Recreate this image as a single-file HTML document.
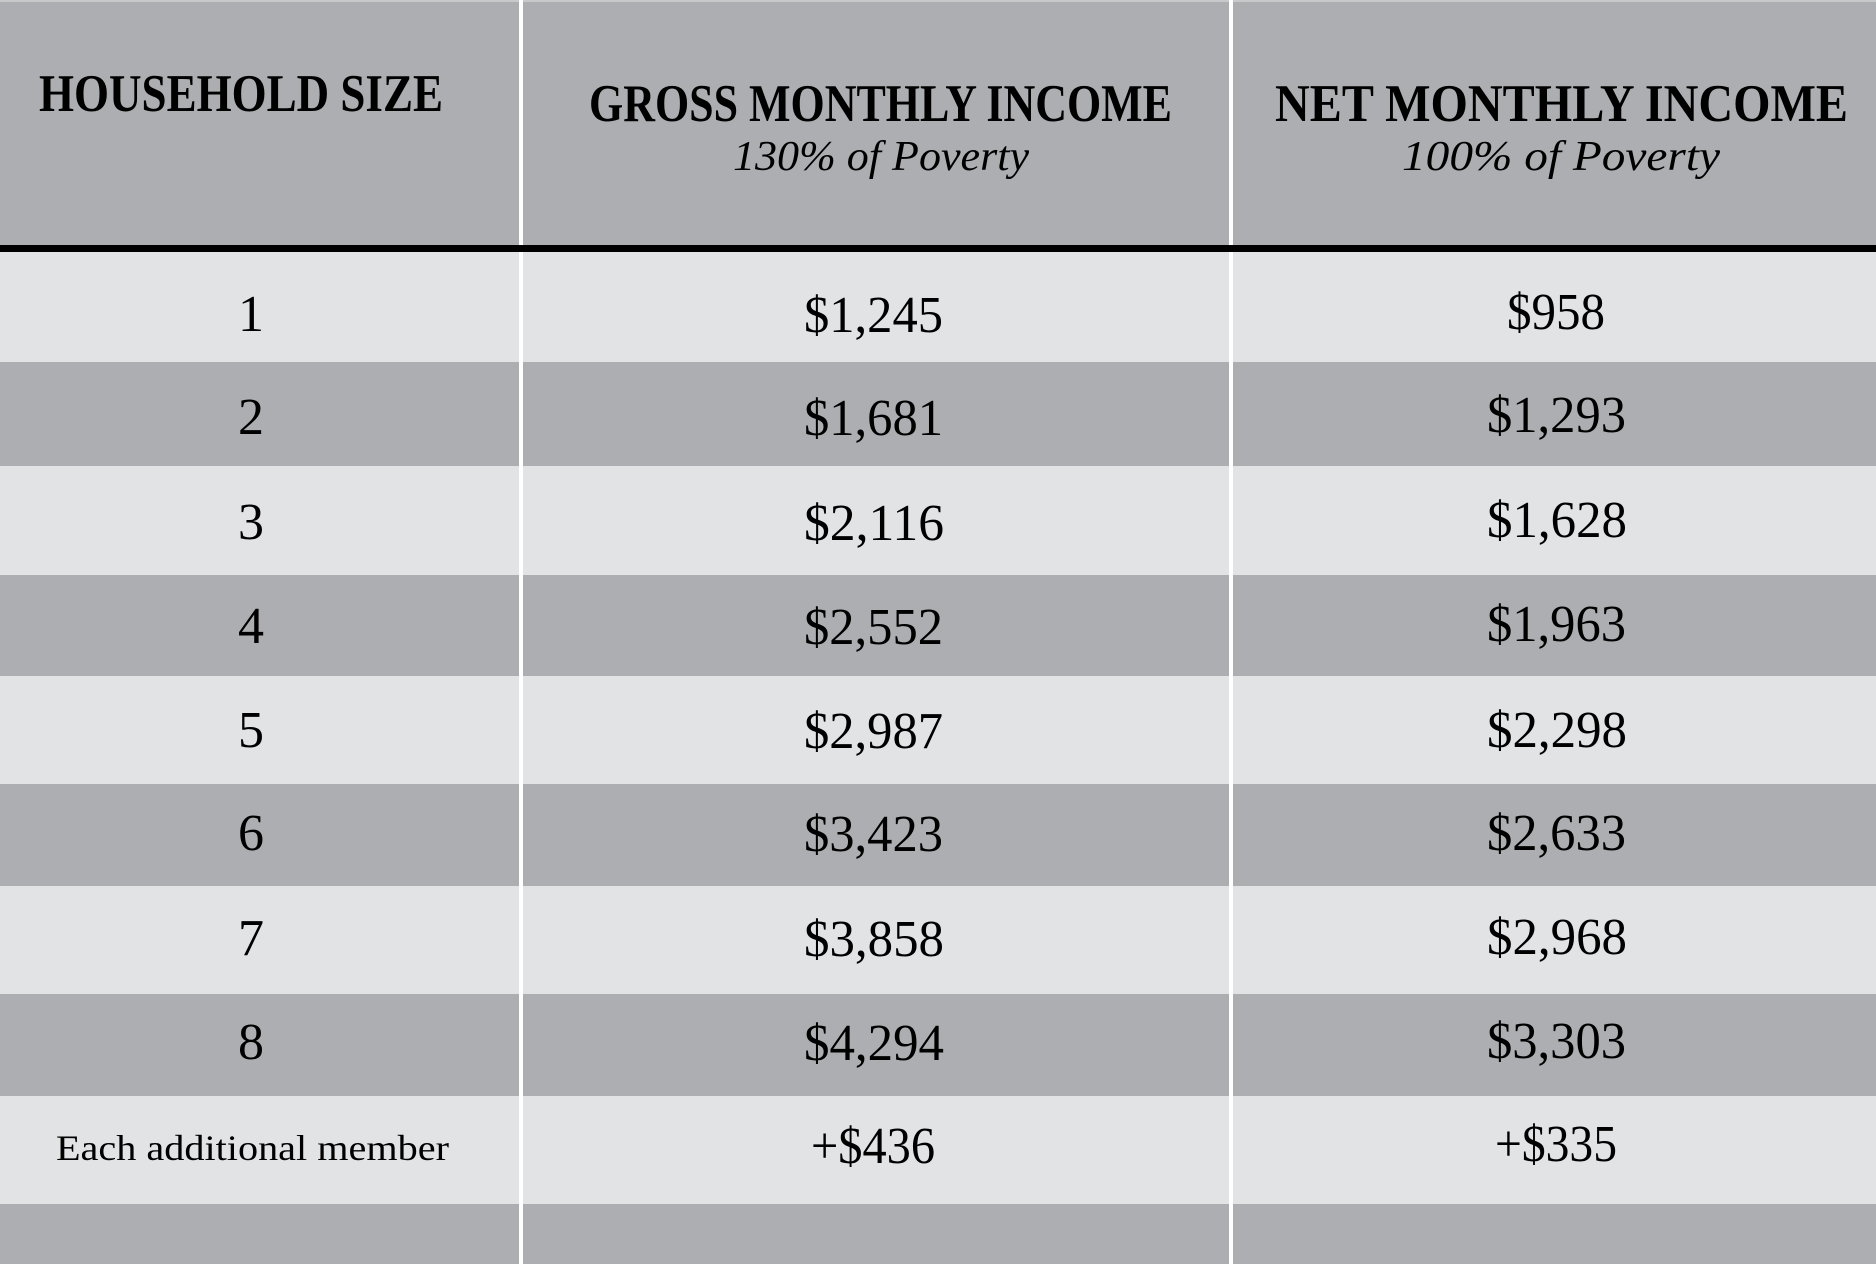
<!DOCTYPE html>
<html><head><meta charset="utf-8"><style>
html,body{margin:0;padding:0;background:#e2e3e5;}
svg{display:block;}
text{font-family:"Liberation Serif",serif;fill:#000;}
.h{font-weight:bold;font-size:53px;}
.i{font-style:italic;font-size:42px;}
.n{font-size:52px;}
</style></head><body>
<svg width="1876" height="1264" viewBox="0 0 1876 1264" xmlns="http://www.w3.org/2000/svg">
<rect x="0" y="0" width="1876" height="245" fill="#adaeb1"/>
<rect x="0" y="0" width="1876" height="2" fill="#c8c9cb"/>
<rect x="0" y="245" width="1876" height="7" fill="#000"/>
<rect x="0" y="252" width="1876" height="110" fill="#e2e3e5"/>
<rect x="0" y="362" width="1876" height="104" fill="#adaeb1"/>
<rect x="0" y="466" width="1876" height="109" fill="#e2e3e5"/>
<rect x="0" y="575" width="1876" height="101" fill="#adaeb1"/>
<rect x="0" y="676" width="1876" height="108" fill="#e2e3e5"/>
<rect x="0" y="784" width="1876" height="102" fill="#adaeb1"/>
<rect x="0" y="886" width="1876" height="108" fill="#e2e3e5"/>
<rect x="0" y="994" width="1876" height="102" fill="#adaeb1"/>
<rect x="0" y="1096" width="1876" height="108" fill="#e2e3e5"/>
<rect x="0" y="1204" width="1876" height="60" fill="#adaeb1"/>
<rect x="519" y="0" width="4" height="245" fill="#fff"/>
<rect x="519" y="252" width="4" height="1012" fill="#fff"/>
<rect x="1229" y="0" width="4" height="245" fill="#fff"/>
<rect x="1229" y="252" width="4" height="1012" fill="#fff"/>

<text class="h" x="39" y="111" textLength="404" lengthAdjust="spacingAndGlyphs">HOUSEHOLD SIZE</text>
<text class="h" x="589" y="121" textLength="583" lengthAdjust="spacingAndGlyphs">GROSS MONTHLY INCOME</text>
<text class="i" x="733" y="170" textLength="296" lengthAdjust="spacingAndGlyphs">130% of Poverty</text>
<text class="h" x="1275" y="121" textLength="573" lengthAdjust="spacingAndGlyphs">NET MONTHLY INCOME</text>
<text class="i" x="1402" y="170" textLength="318" lengthAdjust="spacingAndGlyphs">100% of Poverty</text>

<g class="n" text-anchor="middle">
<text class="n" x="251" y="331">1</text>
<text class="n" x="251" y="434">2</text>
<text class="n" x="251" y="539">3</text>
<text class="n" x="251" y="643">4</text>
<text class="n" x="251" y="747">5</text>
<text class="n" x="251" y="850">6</text>
<text class="n" x="251" y="955">7</text>
<text class="n" x="251" y="1059">8</text>
</g>
<text x="56" y="1160" style="font-size:36px" textLength="393" lengthAdjust="spacingAndGlyphs">Each additional member</text>

<text class="n" x="804" y="332" textLength="139" lengthAdjust="spacingAndGlyphs">$1,245</text>
<text class="n" x="804" y="435" textLength="139" lengthAdjust="spacingAndGlyphs">$1,681</text>
<text class="n" x="804" y="540" textLength="140" lengthAdjust="spacingAndGlyphs">$2,116</text>
<text class="n" x="804" y="644" textLength="139" lengthAdjust="spacingAndGlyphs">$2,552</text>
<text class="n" x="804" y="748" textLength="139" lengthAdjust="spacingAndGlyphs">$2,987</text>
<text class="n" x="804" y="851" textLength="139" lengthAdjust="spacingAndGlyphs">$3,423</text>
<text class="n" x="804" y="956" textLength="140" lengthAdjust="spacingAndGlyphs">$3,858</text>
<text class="n" x="804" y="1060" textLength="140" lengthAdjust="spacingAndGlyphs">$4,294</text>
<text class="n" x="811" y="1163" textLength="124" lengthAdjust="spacingAndGlyphs">+$436</text>

<text class="n" x="1507" y="329" textLength="98" lengthAdjust="spacingAndGlyphs">$958</text>
<text class="n" x="1487" y="432" textLength="139" lengthAdjust="spacingAndGlyphs">$1,293</text>
<text class="n" x="1487" y="537" textLength="140" lengthAdjust="spacingAndGlyphs">$1,628</text>
<text class="n" x="1487" y="641" textLength="139" lengthAdjust="spacingAndGlyphs">$1,963</text>
<text class="n" x="1487" y="747" textLength="140" lengthAdjust="spacingAndGlyphs">$2,298</text>
<text class="n" x="1487" y="850" textLength="139" lengthAdjust="spacingAndGlyphs">$2,633</text>
<text class="n" x="1487" y="954" textLength="140" lengthAdjust="spacingAndGlyphs">$2,968</text>
<text class="n" x="1487" y="1058" textLength="139" lengthAdjust="spacingAndGlyphs">$3,303</text>
<text class="n" x="1495" y="1161" textLength="122" lengthAdjust="spacingAndGlyphs">+$335</text>
</svg>
</body></html>
